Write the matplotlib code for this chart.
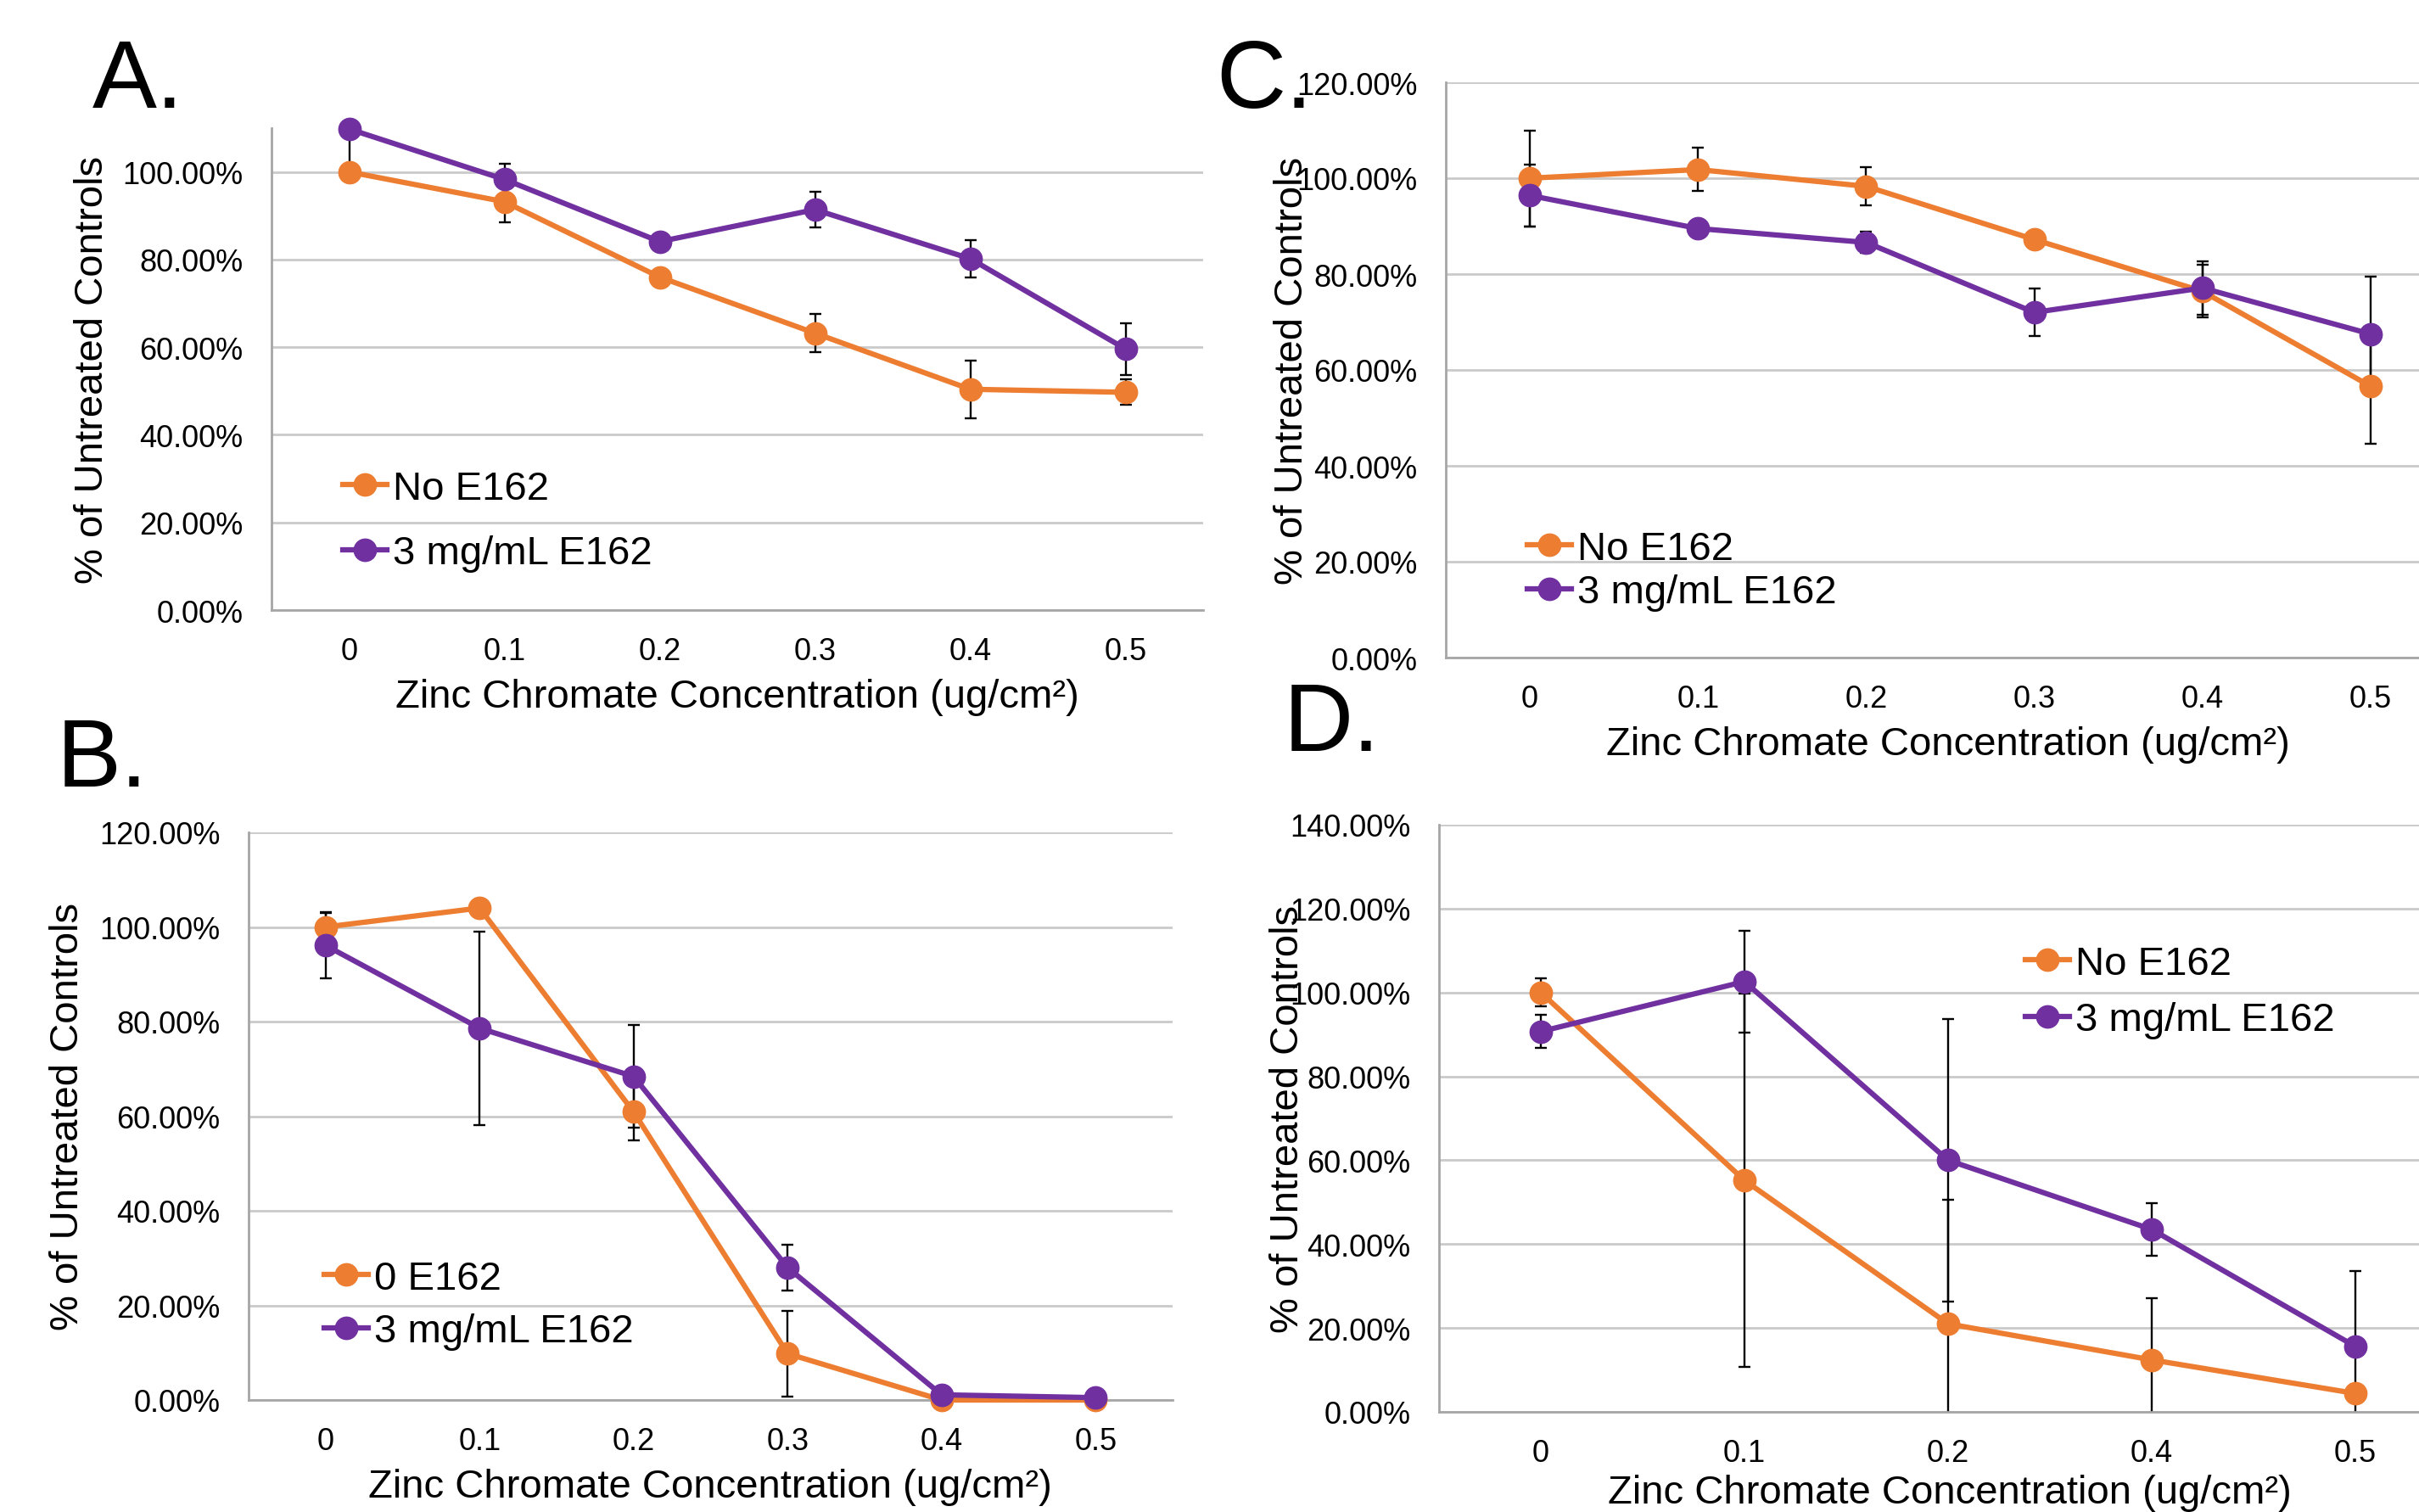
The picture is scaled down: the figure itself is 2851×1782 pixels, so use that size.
import matplotlib
matplotlib.use('Agg')
import matplotlib.pyplot as plt
from matplotlib.ticker import PercentFormatter

plt.rcParams['font.family'] = ['Liberation Sans', 'DejaVu Sans']

W, H = 2851, 1783
ORANGE = '#ED7D31'
PURPLE = '#7030A0'

conc_abc = ['0', '0.1', '0.2', '0.3', '0.4', '0.5']
conc_d = ['0', '0.1', '0.2', '0.4', '0.5']

# panel A
a_no = [100.0, 93.2, 76.0, 63.2, 50.4, 49.7]
a_no_err = [0.0, 4.6, 0.8, 4.3, 6.6, 2.9]
a_e162 = [109.8, 98.3, 84.1, 91.4, 80.2, 59.6]
a_e162_err = [9.6, 3.6, 0.8, 4.1, 4.2, 5.9]

# panel B
b_no = [100.0, 104.0, 60.9, 9.8, 0.0, 0.0]
b_no_err = [3.0, 0.0, 6.0, 9.1, 0.0, 0.0]
b_e162 = [96.1, 78.6, 68.4, 28.0, 1.1, 0.5]
b_e162_err = [7.0, 20.4, 10.8, 4.8, 0.0, 0.0]

# panel C
c_no = [100.0, 101.8, 98.3, 87.2, 76.4, 56.6]
c_no_err = [10.0, 4.5, 4.0, 0.8, 5.5, 12.0]
c_e162 = [96.4, 89.5, 86.6, 72.0, 77.1, 67.5]
c_e162_err = [6.5, 0.5, 2.2, 5.0, 5.6, 12.0]

# panel D
d_no = [100.0, 55.2, 21.0, 12.4, 4.4]
d_no_err = [3.3, 44.5, 29.6, 14.7, 2.0]
d_e162 = [90.7, 102.6, 60.0, 43.5, 15.6]
d_e162_err = [4.0, 12.2, 33.7, 6.2, 18.0]

fig = plt.figure(figsize=(W / 100, H / 100), dpi=100)


def add_axes(left, top, right, bottom):
    return fig.add_axes([left / W, 1 - bottom / H, (right - left) / W, (bottom - top) / H])


def panel(ax, cats, no, no_err, e162, e162_err, labels, ymax, ytop, leg_xy, leg_sp):
    x = list(range(len(cats)))
    for y, err in ((no, no_err), (e162, e162_err)):
        ax.errorbar(x, y, yerr=err, fmt='none', ecolor='black', elinewidth=1.7,
                    capsize=5, capthick=1.7, zorder=2)
    ax.plot(x, no, '-o', color=ORANGE, lw=4.5, ms=19, label=labels[0], zorder=3, clip_on=False)
    ax.plot(x, e162, '-o', color=PURPLE, lw=4.5, ms=19, label=labels[1], zorder=4, clip_on=False)
    ax.set_xlim(-0.5, len(cats) - 0.5)
    ax.set_ylim(0, ytop)
    ax.set_yticks(range(0, ymax + 1, 20))
    ax.yaxis.set_major_formatter(PercentFormatter(xmax=100, decimals=2))
    ax.set_xticks(x)
    ax.set_xticklabels(cats)
    ax.tick_params(length=0, labelsize=26, pad=24)
    ax.tick_params(axis='x', pad=22)
    ax.grid(axis='y', color='#CACACA', lw=2)
    ax.set_axisbelow(True)
    for s in ('top', 'right'):
        ax.spines[s].set_visible(False)
    for s in ('left', 'bottom'):
        ax.spines[s].set_color('#A6A6A6')
        ax.spines[s].set_linewidth(2)
    ax.legend(loc='upper left', bbox_to_anchor=(leg_xy[0] / W, 1 - leg_xy[1] / H),
              bbox_transform=fig.transFigure, frameon=False, borderpad=0, borderaxespad=0,
              handlelength=1.1, handletextpad=0.15, labelspacing=leg_sp, fontsize=34)


ax_a = add_axes(320, 152, 1418, 720)
panel(ax_a, conc_abc, a_no, a_no_err, a_e162, a_e162_err, ['No E162', '3 mg/mL E162'],
      100, 110, (404, 555), 0.68)
ax_c = add_axes(1704, 98, 2893, 776)
panel(ax_c, conc_abc, c_no, c_no_err, c_e162, c_e162_err, ['No E162', '3 mg/mL E162'],
      120, 120, (1800, 626), 0.15)
ax_b = add_axes(293, 982, 1382, 1651)
panel(ax_b, conc_abc, b_no, b_no_err, b_e162, b_e162_err, ['0 E162', '3 mg/mL E162'],
      120, 120, (382, 1486), 0.39)
ax_d = add_axes(1696, 973, 2896, 1665)
panel(ax_d, conc_d, d_no, d_no_err, d_e162, d_e162_err, ['No E162', '3 mg/mL E162'],
      140, 140, (2387, 1115), 0.47)

ylab = '% of Untreated Controls'
xlab = 'Zinc Chromate Concentration (ug/cm²)'
for x, y in ((109, 436), (1523, 437), (80, 1316), (1518, 1319)):
    fig.text(x / W, 1 - y / H, ylab, rotation=90, ha='center', va='center', fontsize=34)
for x, y in ((869, 822), (2296, 878), (837, 1753), (2298, 1760)):
    fig.text(x / W, 1 - y / H, xlab, ha='center', va='center', fontsize=34)
for t, x, y in (('A.', 109, 127), ('C.', 1433, 127), ('B.', 67, 927), ('D.', 1513, 885)):
    fig.text(x / W, 1 - y / H, t, ha='left', va='baseline', fontsize=82)

fig.savefig('out.png', dpi=100)
